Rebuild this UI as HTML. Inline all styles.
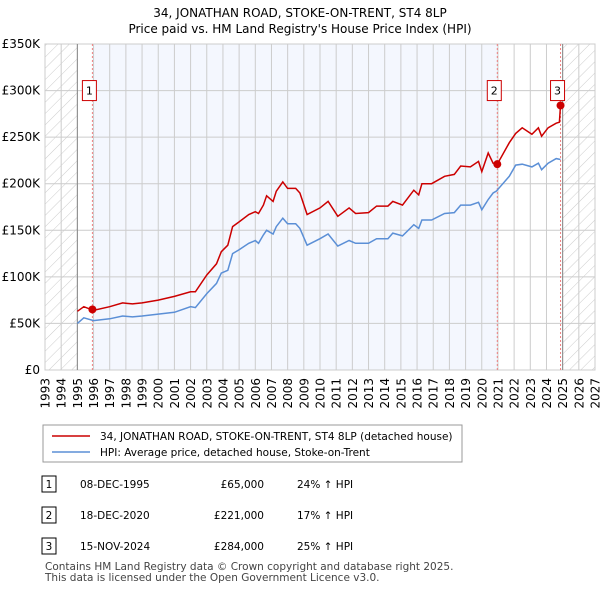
<!DOCTYPE html>
<html><head><meta charset="utf-8"><style>
body{margin:0;background:#fff;font-family:"DejaVu Sans","Liberation Sans",sans-serif;color:#000}
</style></head><body>
<div style="position:relative;width:600px;height:590px;overflow:hidden">
<svg width="600" height="590" style="position:absolute;left:0;top:0" font-family="DejaVu Sans, Liberation Sans, sans-serif">
<defs><pattern id="h" width="8" height="8" patternUnits="userSpaceOnUse" patternTransform="rotate(45)"><line x1="0" y1="0" x2="0" y2="8" stroke="#ccc" stroke-width="1"/></pattern></defs>
<text x="300" y="17" text-anchor="middle" font-size="12">34, JONATHAN ROAD, STOKE-ON-TRENT, ST4 8LP</text>
<text x="300" y="33" text-anchor="middle" font-size="12">Price paid vs. HM Land Registry's House Price Index (HPI)</text>
<g id="plot"></g>
</svg>
<svg width="600" height="590" style="position:absolute;left:0;top:0" font-family="DejaVu Sans, Liberation Sans, sans-serif">
<rect x="43" y="425" width="419" height="37" fill="#fff" stroke="#999"/>
<line x1="52" y1="436" x2="90" y2="436" stroke="#cc0000" stroke-width="1.5"/>
<text x="100" y="440" font-size="10.5">34, JONATHAN ROAD, STOKE-ON-TRENT, ST4 8LP (detached house)</text>
<line x1="52" y1="452" x2="90" y2="452" stroke="#5b8fd6" stroke-width="1.5"/>
<text x="100" y="456" font-size="10.5">HPI: Average price, detached house, Stoke-on-Trent</text>
<g font-size="10.5">
<rect x="42" y="476" width="14" height="16" fill="#fff" stroke="#000"/><text x="49" y="488" text-anchor="middle">1</text>
<text x="80" y="488">08-DEC-1995</text><text x="264" y="488" text-anchor="end">£65,000</text><text x="297" y="488">24% ↑ HPI</text>
<rect x="42" y="507" width="14" height="16" fill="#fff" stroke="#000"/><text x="49" y="519" text-anchor="middle">2</text>
<text x="80" y="519">18-DEC-2020</text><text x="264" y="519" text-anchor="end">£221,000</text><text x="297" y="519">17% ↑ HPI</text>
<rect x="42" y="538" width="14" height="16" fill="#fff" stroke="#000"/><text x="49" y="550" text-anchor="middle">3</text>
<text x="80" y="550">15-NOV-2024</text><text x="264" y="550" text-anchor="end">£284,000</text><text x="297" y="550">25% ↑ HPI</text>
<text x="45" y="570" fill="#444">Contains HM Land Registry data © Crown copyright and database right 2025.</text>
<text x="45" y="581" fill="#444">This data is licensed under the Open Government Licence v3.0.</text>
</g>
</svg>
</div>
<script>
const priceYears=[1995.0,1995.4,1996.0,1997.0,1997.8,1998.4,1999.0,2000,2001,2002,2002.3,2003,2003.6,2003.9,2004.3,2004.6,2005,2005.6,2006,2006.2,2006.5,2006.7,2007.1,2007.3,2007.7,2008.0,2008.5,2008.76,2009.2,2010,2010.5,2011.1,2011.8,2012.2,2013,2013.5,2014.2,2014.5,2015.1,2015.8,2016.1,2016.3,2016.9,2017.7,2018.3,2018.7,2019.3,2019.8,2020.0,2020.4,2020.7,2020.96,2021.7,2022.1,2022.5,2023.1,2023.5,2023.7,2024.1,2024.6,2024.8,2024.87];
const priceValues=[63,68,64,68,72,71,72,75,79,84,84,102,114,127,134,154,159,167,170,168,177,187,181,192,202,195,195,190,167,174,181,165,174,168,169,176,176,181,177,193,188,200,200,208,210,219,218,224,213,233,222,221,244,254,260,253,260,251,260,265,266,284];
const hpiYears=[1995.0,1995.4,1996.0,1997.0,1997.8,1998.4,1999.0,2000,2001,2002,2002.3,2003,2003.6,2003.9,2004.3,2004.6,2005,2005.6,2006,2006.2,2006.5,2006.7,2007.1,2007.3,2007.7,2008.0,2008.5,2008.76,2009.2,2010,2010.5,2011.1,2011.8,2012.2,2013,2013.5,2014.2,2014.5,2015.1,2015.8,2016.1,2016.3,2016.9,2017.7,2018.3,2018.7,2019.3,2019.8,2020.0,2020.4,2020.7,2020.9,2021.7,2022.1,2022.5,2023.1,2023.5,2023.7,2024.1,2024.6,2024.87];
const hpiValues=[50,56,53,55,58,57,58,60,62,68,67,82,93,104,107,125,129,136,139,136,145,150,146,154,163,157,157,152,134,141,146,133,139,136,136,141,141,147,144,156,152,161,161,168,169,177,177,180,172,183,190,192,208,220,221,218,222,215,222,227,226];
const saleYears=[1995.93,2020.96,2024.87];
const saleValues=[65,221,284];
const saleLabels=["1","2","3"];
const yTicks=[0,50,100,150,200,250,300,350];
const yTickLabels=["£0","£50K","£100K","£150K","£200K","£250K","£300K","£350K"];
const xStart=1993,xEnd=2027;

const X0=45,X1=595,Y0=370,Y1=44;
const xs=y=>X0+(y-xStart)/(xEnd-xStart)*(X1-X0);
const ys=v=>Y0-v/350*(Y0-Y1);
const NS="http://www.w3.org/2000/svg";
const g=document.getElementById('plot');
function mk(t,a,p){const e=document.createElementNS(NS,t);for(const k in a)e.setAttribute(k,a[k]);(p||g).appendChild(e);return e;}
let r=mk('rect',{x:X0,y:Y1,width:X1-X0,height:Y0-Y1,fill:'#fff'});


r=mk('rect',{x:xs(saleYears[0]),y:Y1,width:xs(saleYears[1])-xs(saleYears[0]),height:Y0-Y1,fill:'#f4f7fe'});


r=mk('rect',{x:X0,y:Y1,width:xs(1995)-X0,height:Y0-Y1,fill:'url(#h)'});


r=mk('rect',{x:xs(2025),y:Y1,width:X1-xs(2025),height:Y0-Y1,fill:'url(#h)'});


for(let y=xStart;y<=xEnd;y++){
 const l=mk('line',{x1:xs(y),x2:xs(y),y1:Y1,y2:Y0,stroke:'#ccc','stroke-width':1});
 
 
 const t=mk('text',{x:0,y:0,'text-anchor':'end','font-size':12,transform:'translate('+(xs(y)+4.5)+','+(Y0+8)+') rotate(-90)'});
 
 
 t.textContent=y;
}
yTicks.forEach((v,i)=>{
 const l=mk('line',{x1:X0,x2:X1,y1:ys(v),y2:ys(v),stroke:'#ccc','stroke-width':1});
 
 
 const t=mk('text',{x:X0-5,y:ys(v)+4,'text-anchor':'end','font-size':12});
 
 
 t.textContent=yTickLabels[i];
});
r=mk('rect',{x:X0,y:Y1,width:X1-X0,height:Y0-Y1,fill:'none',stroke:'#ccc'});
let l=mk('line',{x1:xs(1995),x2:xs(1995),y1:Y1,y2:Y0,stroke:'#888'});


l=mk('line',{x1:xs(2025),x2:xs(2025),y1:Y1,y2:Y0,stroke:'#888'});


saleYears.forEach((y,i)=>{
 const d=mk('line',{x1:xs(y),x2:xs(y),y1:Y1,y2:Y0,stroke:'#f08080','stroke-dasharray':'2,2'});
 
 
});
function path(xa,va,col,name){
 const p=mk('path',{d:xa.map((y,i)=>(i?'L':'M')+xs(y).toFixed(1)+','+ys(va[i]).toFixed(1)).join(''),fill:'none',stroke:col,'stroke-width':1.5});
 
 
}
path(hpiYears,hpiValues,'#5b8fd6','hpi-line');
path(priceYears,priceValues,'#cc0000','price-line');
saleYears.forEach((y,i)=>{
 const c=mk('circle',{cx:xs(y),cy:ys(saleValues[i]),r:4,fill:'#cc0000'});
 
 
 const b=mk('rect',{x:xs(y)-10,y:ys(300)-10,width:14,height:20,fill:'#fff',stroke:'#cc0000'});
 
 
 const t=mk('text',{x:xs(y)-3,y:ys(300)+4,'text-anchor':'middle','font-size':11});
 
 
 t.textContent=saleLabels[i];
});
</script>
</body></html>
